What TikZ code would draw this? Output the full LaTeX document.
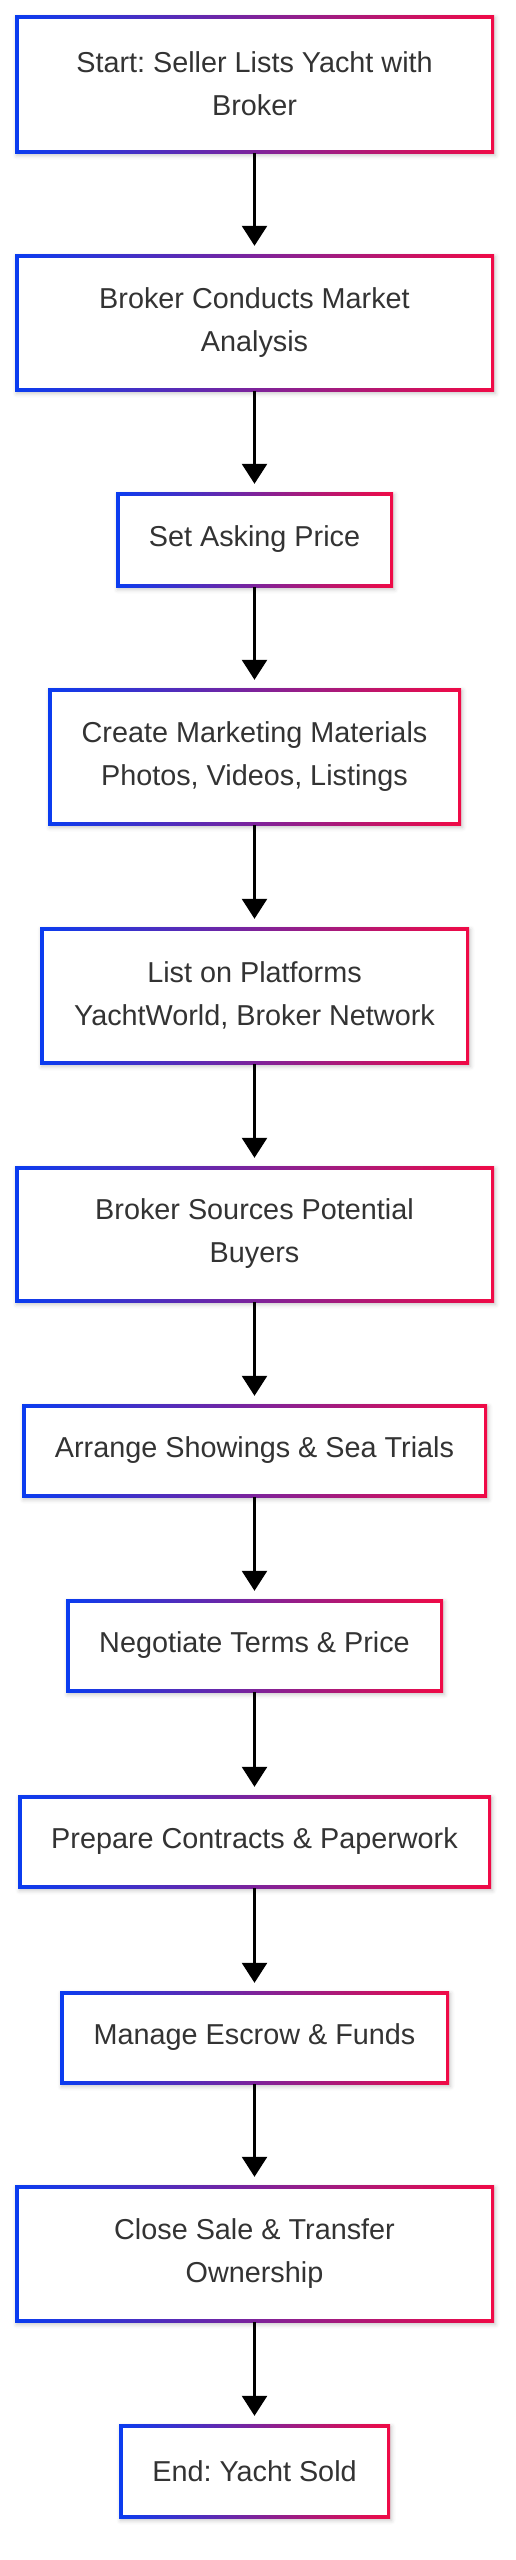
\documentclass[tikz,border=0pt]{standalone}
\usepackage{fontspec}
\setmainfont{Liberation Sans}
\usetikzlibrary{arrows.meta,shadows.blur}
\definecolor{gblue}{RGB}{10,60,240}
\definecolor{gred}{RGB}{240,10,70}
\definecolor{txt}{RGB}{51,51,51}
\tikzset{
  stepbox/.style={shade, left color=gblue, right color=gred, inner sep=0pt,
    text=txt, align=center, font=\fontsize{28.8pt}{43pt}\selectfont\frenchspacing,
    blur shadow={shadow xshift=1.5pt, shadow yshift=-2.5pt, shadow blur radius=4pt, shadow opacity=22},
    path picture={\fill[white] ([shift={(3.5pt,-3.5pt)}]path picture bounding box.north west) rectangle ([shift={(-3.5pt,3.5pt)}]path picture bounding box.south east);}},
  flow/.style={line width=2.7pt, draw=black, -{Triangle[width=25pt,length=20pt]}, shorten >=8pt}
}
\newcommand{\mkbox}[6]{\node[stepbox, minimum width={(#4)-(#2)}, minimum height={(#5)-(#3)}] (#1) at ({((#2)+(#4))/2},{((#3)+(#5))/2}) {#6};}
\begin{document}
\begin{tikzpicture}[x=1pt,y=-1pt]
\useasboundingbox (0,0) rectangle (515,2560);
\mkbox{n1}{15}{15}{494}{153}{Start: Seller Lists Yacht with\\Broker}
\mkbox{n2}{15}{254}{494}{391}{Broker Conducts Market\\Analysis}
\mkbox{n3}{116}{492}{393}{587}{Set Asking Price}
\mkbox{n4}{48}{688}{461}{825}{Create Marketing Materials\\Photos, Videos, Listings}
\mkbox{n5}{40}{927}{469}{1064}{List on Platforms\\YachtWorld, Broker Network}
\mkbox{n6}{15}{1166}{494}{1302}{Broker Sources Potential\\Buyers}
\mkbox{n7}{22}{1404}{487}{1497}{Arrange Showings \& Sea Trials}
\mkbox{n8}{66}{1599}{443}{1692}{Negotiate Terms \& Price}
\mkbox{n9}{18}{1795}{491}{1888}{Prepare Contracts \& Paperwork}
\mkbox{n10}{60}{1991}{449}{2084}{Manage Escrow \& Funds}
\mkbox{n11}{15}{2185}{494}{2322}{Close Sale \& Transfer\\Ownership}
\mkbox{n12}{119}{2424}{390}{2518}{End: Yacht Sold}
\foreach \a/\b in {n1/n2,n2/n3,n3/n4,n4/n5,n5/n6,n6/n7,n7/n8,n8/n9,n9/n10,n10/n11,n11/n12}
  \draw[flow] (\a.south) -- (\b.north);
\end{tikzpicture}
\end{document}
